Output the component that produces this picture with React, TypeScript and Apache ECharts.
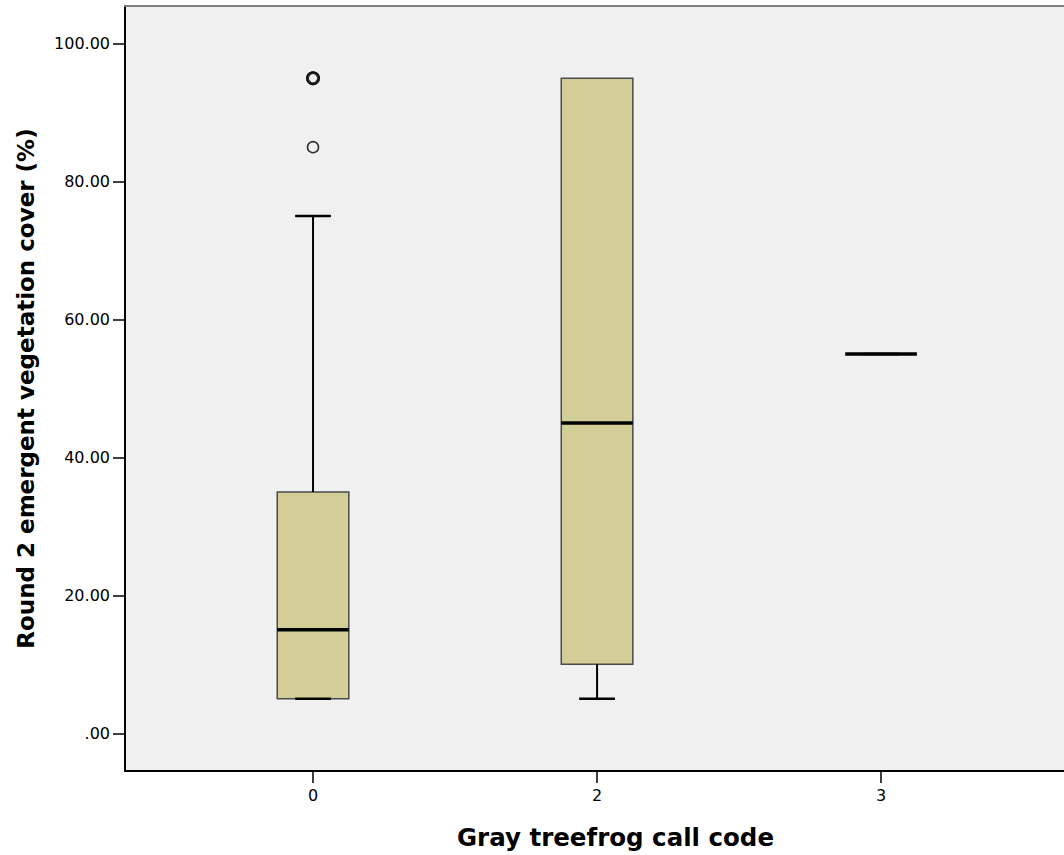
import React, { useEffect, useRef } from "react";
import * as echarts from "echarts";

// Category labels (x axis)
const categories = ["0", "2", "3"];
// Box statistics per category: [lowerWhisker, Q1, median, Q3, upperWhisker]
const lowerWhisker = [5, 5, 55];
const q1Values = [5, 10, 55];
const medianValues = [15, 45, 55];
const q3Values = [35, 95, 55];
const upperWhisker = [75, 95, 55];
// Outliers: category index and value
const outlierCategory = [0, 0, 0];
const outlierValues = [95, 95, 85];
// Y tick labels
const yTicks = [0, 20, 40, 60, 80, 100];

const BOX_W = 0.252;

export default function App() {
  const ref = useRef<HTMLDivElement>(null);

  useEffect(() => {
    if (!ref.current) return;
    const chart = echarts.init(ref.current, undefined, { renderer: "svg" });

    const boxData = categories.map((_, i) => [
      i,
      lowerWhisker[i],
      q1Values[i],
      medianValues[i],
      q3Values[i],
      upperWhisker[i],
    ]);

    const outlierData = outlierValues.map((v, i) => {
      const dup = outlierValues.filter(
        (w, j) => w === v && outlierCategory[j] === outlierCategory[i]
      ).length;
      return {
        value: [outlierCategory[i], v],
        itemStyle: { borderWidth: dup > 1 ? 2.8 : 1.6 },
      };
    });

    const option: any = {
      animation: false,
      backgroundColor: "#ffffff",
      grid: {
        left: 125,
        right: 0,
        top: 6,
        bottom: 84,
        show: true,
        backgroundColor: "#F0F0F0",
        borderWidth: 0,
      },
      xAxis: [
        {
          type: "value",
          min: -0.662,
          max: 2.644,
          name: "Gray treefrog call code",
          nameLocation: "middle",
          nameGap: 54,
          nameTextStyle: {
            fontFamily: "DejaVu Sans",
            fontWeight: "bold",
            fontSize: 24.5,
            color: "#000",
            padding: [0, 0, 0, 42],
          },
          axisLine: { show: true, onZero: false, lineStyle: { color: "#000", width: 2 } },
          axisTick: {
            show: true,
            length: 12,
            customValues: [0, 1, 2],
            lineStyle: { color: "#000", width: 1.5 },
          },
          axisLabel: {
            customValues: [0, 1, 2],
            formatter: (v: number) => categories[Math.round(v)] ?? "",
            fontFamily: "DejaVu Sans",
            fontSize: 16,
            color: "#000",
            margin: 16,
          },
          splitLine: { show: false },
        },
        {
          type: "value",
          position: "top",
          min: -0.662,
          max: 2.644,
          axisLine: { show: true, onZero: false, lineStyle: { color: "#808080", width: 2 } },
          axisTick: { show: false },
          axisLabel: { show: false },
          splitLine: { show: false },
        },
      ],
      yAxis: {
        type: "value",
        min: -5.47,
        max: 105.47,
        name: "Round 2 emergent vegetation cover (%)",
        nameLocation: "middle",
        nameGap: 88,
        nameTextStyle: {
          fontFamily: "DejaVu Sans",
          fontWeight: "bold",
          fontSize: 23,
          color: "#000",
        },
        axisLine: { show: true, onZero: false, lineStyle: { color: "#000", width: 2 } },
        axisTick: {
          show: true,
          length: 12,
          customValues: yTicks,
          lineStyle: { color: "#000", width: 1.5 },
        },
        axisLabel: {
          customValues: yTicks,
          formatter: (v: number) => (v === 0 ? ".00" : v.toFixed(2)),
          fontFamily: "DejaVu Sans",
          fontSize: 16,
          color: "#000",
          margin: 15,
        },
        splitLine: { show: false },
      },
      series: [
        {
          type: "custom",
          data: boxData,
          encode: { x: 0, y: [1, 2, 3, 4, 5] },
          renderItem: (params: any, api: any) => {
            const x = api.value(0);
            const lo = api.coord([x, api.value(1)]);
            const q1 = api.coord([x, api.value(2)]);
            const med = api.coord([x, api.value(3)]);
            const q3 = api.coord([x, api.value(4)]);
            const hi = api.coord([x, api.value(5)]);
            const bw = api.size([BOX_W, 0])[0];
            const cx = lo[0];
            const children: any[] = [];
            children.push({
              type: "rect",
              shape: { x: cx - bw / 2, y: q3[1], width: bw, height: q1[1] - q3[1] },
              style: { fill: "#D3CE98", stroke: "#4a4a4a", lineWidth: 1.5 },
            });
            if (hi[1] < q3[1]) {
              children.push({
                type: "line",
                shape: { x1: cx, y1: q3[1], x2: cx, y2: hi[1] },
                style: { stroke: "#000", lineWidth: 2 },
              });
              children.push({
                type: "line",
                shape: { x1: cx - bw / 4, y1: hi[1], x2: cx + bw / 4, y2: hi[1] },
                style: { stroke: "#000", lineWidth: 2.5 },
              });
            }
            if (lo[1] > q1[1]) {
              children.push({
                type: "line",
                shape: { x1: cx, y1: q1[1], x2: cx, y2: lo[1] },
                style: { stroke: "#000", lineWidth: 2 },
              });
            }
            children.push({
              type: "line",
              shape: { x1: cx - bw / 4, y1: lo[1], x2: cx + bw / 4, y2: lo[1] },
              style: { stroke: "#000", lineWidth: 2.5 },
            });
            children.push({
              type: "line",
              shape: { x1: cx - bw / 2, y1: med[1], x2: cx + bw / 2, y2: med[1] },
              style: { stroke: "#000", lineWidth: 3.5 },
            });
            return { type: "group", children };
          },
          z: 2,
        },
        {
          type: "scatter",
          data: outlierData,
          symbol: "circle",
          symbolSize: 11,
          itemStyle: { color: "#F0F0F0", borderColor: "#000" },
          z: 3,
        },
      ],
    };

    chart.setOption(option);
    return () => chart.dispose();
  }, []);

  return (
    <div
      ref={ref}
      style={{ position: "absolute", left: 0, top: 0, width: 1064, height: 855, background: "#fff" }}
    />
  );
}
